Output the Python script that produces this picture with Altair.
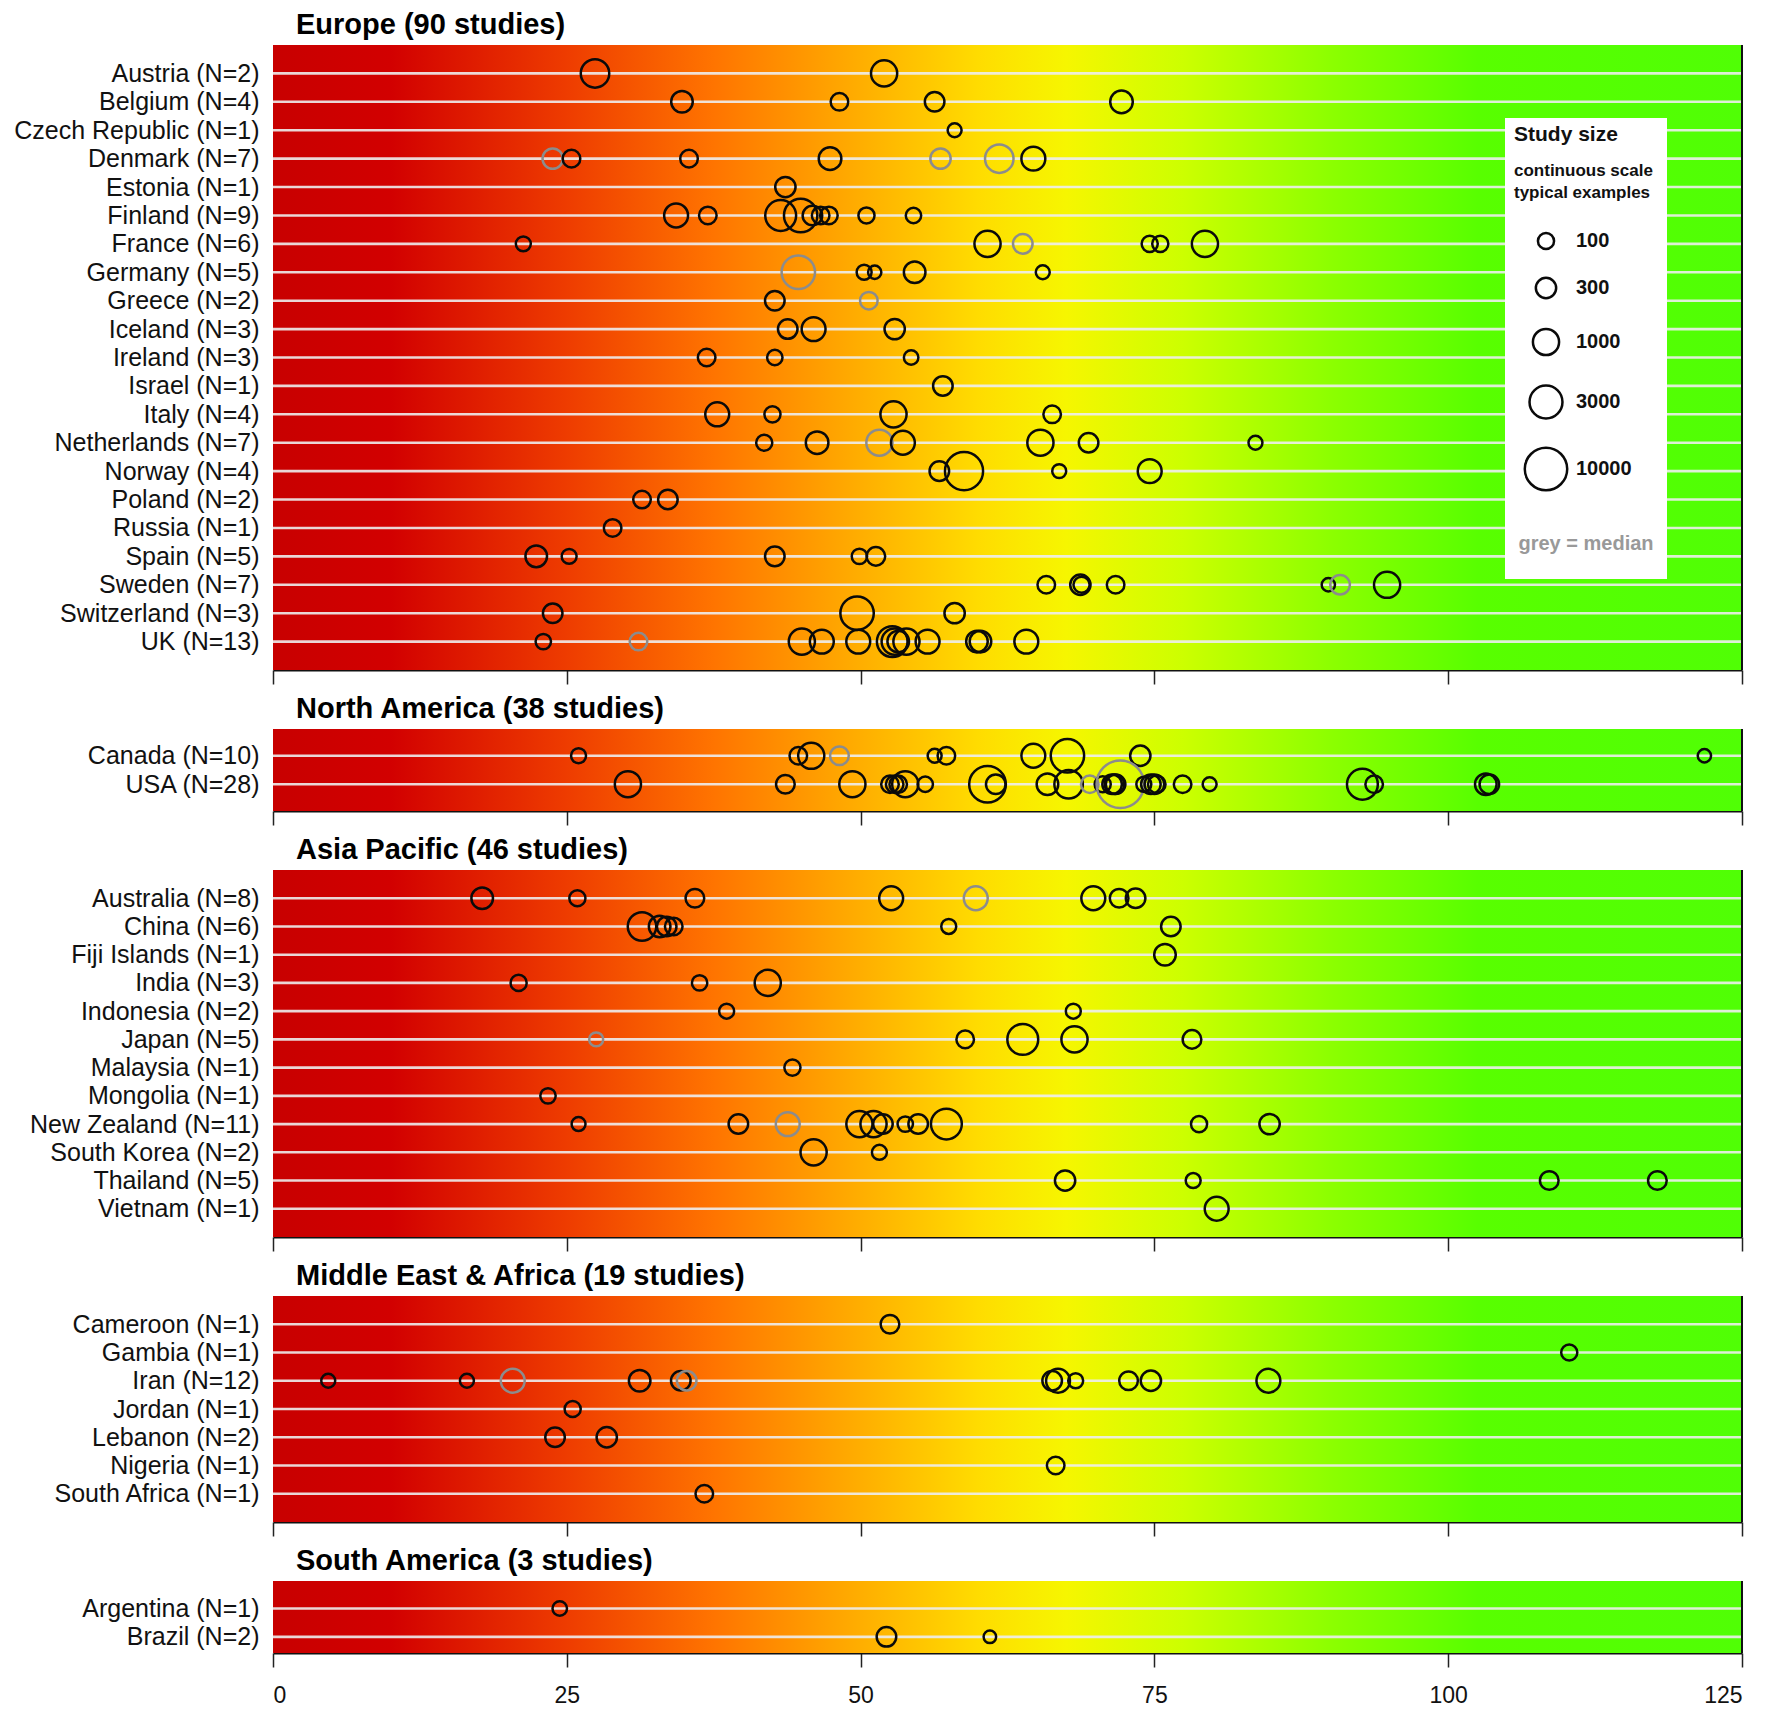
import altair as alt
import pandas as pd

# ── data: (country, N, [(value, study size, grey=median?)]) ─────────────────

EUROPE = [
    ("Austria", 2, [(27.4, 1500, 0), (52.0, 1000, 0)]),
    ("Belgium", 4, [(34.8, 400, 0), (48.2, 150, 0), (56.3, 250, 0), (72.2, 500, 0)]),
    ("Czech Republic", 1, [(58.0, 50, 0)]),
    ("Denmark", 7, [(23.8, 300, 1), (25.4, 150, 0), (35.4, 150, 0), (47.4, 500, 0),
                    (56.8, 300, 1), (61.8, 1500, 1), (64.7, 650, 0)]),
    ("Estonia", 1, [(43.6, 300, 0)]),
    ("Finland", 9, [(34.3, 650, 0), (37.0, 150, 0), (43.2, 2200, 0), (44.9, 3200, 0),
                    (45.9, 250, 0), (46.6, 150, 0), (47.3, 150, 0), (50.5, 100, 0), (54.5, 80, 0)]),
    ("France", 6, [(21.3, 70, 0), (60.8, 1000, 0), (63.8, 250, 1), (74.6, 100, 0),
                   (75.5, 100, 0), (79.3, 1000, 0)]),
    ("Germany", 5, [(44.7, 3200, 1), (50.3, 70, 0), (51.2, 40, 0), (54.6, 400, 0), (65.5, 50, 0)]),
    ("Greece", 2, [(42.7, 250, 0), (50.7, 150, 1)]),
    ("Iceland", 3, [(43.8, 250, 0), (46.0, 650, 0), (52.9, 300, 0)]),
    ("Ireland", 3, [(36.9, 150, 0), (42.7, 80, 0), (54.3, 60, 0)]),
    ("Israel", 1, [(57.0, 250, 0)]),
    ("Italy", 4, [(37.8, 650, 0), (42.5, 100, 0), (52.8, 1000, 0), (66.3, 150, 0)]),
    ("Netherlands", 7, [(41.8, 100, 0), (46.3, 500, 0), (51.6, 1000, 1), (53.6, 650, 0),
                        (65.3, 1000, 0), (69.4, 250, 0), (83.6, 50, 0)]),
    ("Norway", 4, [(56.7, 250, 0), (58.8, 6000, 0), (66.9, 50, 0), (74.6, 650, 0)]),
    ("Poland", 2, [(31.4, 150, 0), (33.6, 250, 0)]),
    ("Russia", 1, [(28.9, 150, 0)]),
    ("Spain", 5, [(22.4, 400, 0), (25.2, 70, 0), (42.7, 250, 0), (49.9, 80, 0), (51.3, 200, 0)]),
    ("Sweden", 7, [(65.8, 150, 0), (68.7, 300, 0), (68.8, 100, 0), (71.7, 150, 0),
                   (89.8, 40, 0), (90.8, 250, 1), (94.8, 1000, 0)]),
    ("Switzerland", 3, [(23.8, 250, 0), (49.7, 3200, 0), (58.0, 300, 0)]),
    ("UK", 13, [(23.0, 80, 0), (31.1, 150, 1), (45.0, 1000, 0), (46.7, 650, 0), (49.8, 650, 0),
                (52.7, 2200, 0), (52.9, 1000, 0), (53.2, 400, 0), (53.9, 1000, 0),
                (55.7, 650, 0), (59.9, 400, 0), (60.2, 400, 0), (64.1, 650, 0)]),
]

NORTH_AMERICA = [
    ("Canada", 10, [(26.0, 70, 0), (44.7, 150, 0), (45.8, 1000, 0), (48.2, 200, 1), (56.3, 50, 0),
                    (57.3, 150, 0), (64.7, 650, 0), (67.6, 3200, 0), (73.8, 300, 0), (121.8, 40, 0)]),
    ("USA", 28, [(30.2, 1000, 0), (43.6, 200, 0), (49.3, 1000, 0), (52.5, 150, 0), (52.9, 150, 0),
                 (53.2, 150, 0), (53.8, 1000, 0), (55.5, 80, 0), (60.8, 5000, 0), (61.5, 250, 0),
                 (65.9, 400, 0), (67.7, 1500, 0), (69.5, 150, 1), (70.6, 100, 0), (71.4, 250, 0),
                 (71.6, 250, 0), (71.7, 250, 0), (72.1, 17000, 1), (74.1, 70, 0), (74.7, 250, 0),
                 (75.0, 250, 0), (75.2, 150, 0), (77.4, 150, 0), (79.7, 50, 0), (92.7, 2200, 0),
                 (93.7, 150, 0), (103.2, 400, 0), (103.5, 250, 0)]),
]

ASIA_PACIFIC = [
    ("Australia", 8, [(17.8, 400, 0), (25.9, 100, 0), (35.9, 200, 0), (52.6, 650, 0),
                      (59.8, 650, 1), (69.8, 650, 0), (72.0, 200, 0), (73.4, 250, 0)]),
    ("China", 6, [(31.4, 1500, 0), (32.9, 400, 0), (33.5, 250, 0), (34.1, 150, 0),
                  (57.5, 70, 0), (76.4, 250, 0)]),
    ("Fiji Islands", 1, [(75.9, 400, 0)]),
    ("India", 3, [(20.9, 100, 0), (36.3, 80, 0), (42.1, 1000, 0)]),
    ("Indonesia", 2, [(38.6, 70, 0), (68.1, 70, 0)]),
    ("Japan", 5, [(27.5, 50, 1), (58.9, 150, 0), (63.8, 2200, 0), (68.2, 1000, 0), (78.2, 200, 0)]),
    ("Malaysia", 1, [(44.2, 100, 0)]),
    ("Mongolia", 1, [(23.4, 80, 0)]),
    ("New Zealand", 11, [(26.0, 50, 0), (39.6, 250, 0), (43.8, 650, 1), (49.9, 1000, 0),
                         (51.1, 1000, 0), (51.9, 250, 0), (53.8, 80, 0), (54.9, 250, 0),
                         (57.3, 2200, 0), (78.8, 100, 0), (84.8, 300, 0)]),
    ("South Korea", 2, [(46.0, 1000, 0), (51.6, 70, 0)]),
    ("Thailand", 5, [(67.4, 300, 0), (78.3, 70, 0), (108.6, 200, 0), (117.8, 200, 0)]),
    ("Vietnam", 1, [(80.3, 650, 0)]),
]

MIDDLE_EAST_AFRICA = [
    ("Cameroon", 1, [(52.5, 200, 0)]),
    ("Gambia", 1, [(110.3, 100, 0)]),
    ("Iran", 12, [(4.7, 50, 0), (16.5, 50, 0), (20.4, 650, 1), (31.2, 400, 0), (34.7, 250, 0),
                  (35.2, 250, 1), (66.3, 250, 0), (66.8, 650, 0), (68.3, 70, 0), (72.8, 200, 0),
                  (74.7, 300, 0), (84.7, 650, 0)]),
    ("Jordan", 1, [(25.5, 100, 0)]),
    ("Lebanon", 2, [(24.0, 250, 0), (28.4, 300, 0)]),
    ("Nigeria", 1, [(66.6, 150, 0)]),
    ("South Africa", 1, [(36.7, 150, 0)]),
]

SOUTH_AMERICA = [
    ("Argentina", 1, [(24.4, 60, 0)]),
    ("Brazil", 2, [(52.2, 250, 0), (61.0, 30, 0)]),
]

X_TICKS = [0, 25, 50, 75, 100, 125]
LEGEND_N = [100, 300, 1000, 3000, 10000]

# ── style ───────────────────────────────────────────────────────────────────

FONT = "Liberation Sans"
W = 1469

GRADIENT = {
    "gradient": "linear", "x1": 0, "y1": 0, "x2": 1, "y2": 0,
    "stops": [
        {"offset": 0.00, "color": "#C80000"},
        {"offset": 0.08, "color": "#D20000"},
        {"offset": 0.20, "color": "#EE3C00"},
        {"offset": 0.30, "color": "#FF7400"},
        {"offset": 0.40, "color": "#FFAE00"},
        {"offset": 0.48, "color": "#FFDC00"},
        {"offset": 0.54, "color": "#F6F600"},
        {"offset": 0.62, "color": "#CCFF00"},
        {"offset": 0.72, "color": "#8CFF00"},
        {"offset": 0.82, "color": "#58FF00"},
        {"offset": 1.00, "color": "#50FF05"},
    ],
}

SIZE = alt.Scale(type="pow", exponent=0.42, domain=[0, 10000], range=[0, 1800])
KIND = alt.Scale(domain=["study", "median"], range=["#0A0A0A", "#8C8C8C"])
XSCALE = alt.Scale(domain=[0, 125], nice=False, zero=False)
STROKE = 2.5


def legend_layers():
    box = alt.Chart(pd.DataFrame({"a": [0]})).mark_rect(color="white").encode(
        x=alt.value(1232), x2=alt.value(1394), y=alt.value(73), y2=alt.value(534)
    )
    parts = [box]
    heads = [("Study size", 21, 90, "#111"), ("continuous scale", 17, 126, "#111"),
             ("typical examples", 17, 148, "#111")]
    for txt, fs, yy, col in heads:
        parts.append(
            alt.Chart(pd.DataFrame({"t": [txt]}))
            .mark_text(align="left", baseline="middle", font=FONT, fontWeight="bold",
                       fontSize=fs, color=col)
            .encode(x=alt.value(1241), y=alt.value(yy), text="t:N")
        )
    item_y = [196, 243, 297, 357, 424]
    for n, yy in zip(LEGEND_N, item_y):
        d = pd.DataFrame({"n": [n], "t": [str(n)]})
        parts.append(
            alt.Chart(d).mark_point(shape="circle", filled=False, strokeWidth=STROKE,
                                    opacity=1, color="#0A0A0A")
            .encode(x=alt.value(1273), y=alt.value(yy),
                    size=alt.Size("n:Q", scale=SIZE, legend=None))
        )
        parts.append(
            alt.Chart(d).mark_text(align="left", baseline="middle", font=FONT,
                                   fontWeight="bold", fontSize=20, color="#111")
            .encode(x=alt.value(1303), y=alt.value(yy), text="t:N")
        )
    parts.append(
        alt.Chart(pd.DataFrame({"t": ["grey = median"]}))
        .mark_text(align="center", baseline="middle", font=FONT, fontWeight="bold",
                   fontSize=20, color="#999999")
        .encode(x=alt.value(1313), y=alt.value(499), text="t:N")
    )
    return parts


def panel(name, rows, height, pad, align, last=False, legend=False):
    labels = [f"{c} (N={k})" for c, k, _ in rows]
    recs = [
        {"label": f"{c} (N={k})", "x": v, "n": n, "kind": "median" if g else "study"}
        for c, k, studies in rows for v, n, g in studies
    ]
    df = pd.DataFrame(recs)
    total = sum(k for _, k, _ in rows)

    yscale = alt.Scale(type="point", domain=labels, padding=pad, align=align)
    y_axis = alt.Axis(title=None, ticks=False, domain=False, labelFontSize=25,
                      labelFont=FONT, labelColor="#111", labelPadding=14, labelLimit=400)
    x_axis = alt.Axis(values=X_TICKS, title=None, grid=False, labels=last, tickSize=14,
                      tickWidth=1.5, tickColor="#222", domainColor="#111", domainWidth=2,
                      labelFontSize=23, labelFont=FONT, labelColor="#111", labelPadding=17)

    span = pd.DataFrame({"x0": [0], "x1": [125]})
    bg = alt.Chart(span).mark_rect(color=GRADIENT).encode(
        x=alt.X("x0:Q", scale=XSCALE, axis=x_axis), x2="x1:Q",
        y=alt.value(0), y2=alt.value(height),
    )
    lines = alt.Chart(pd.DataFrame({"label": labels})).mark_rule(
        color="#EDEDED", strokeWidth=2.6, opacity=0.9
    ).encode(y=alt.Y("label:N", scale=yscale, axis=y_axis, sort=None))

    circles = alt.Chart(df).mark_point(shape="circle", filled=False, strokeWidth=STROKE, opacity=1).encode(
        x=alt.X("x:Q", scale=XSCALE, axis=x_axis),
        y=alt.Y("label:N", scale=yscale, axis=y_axis, sort=None),
        size=alt.Size("n:Q", scale=SIZE, legend=None),
        color=alt.Color("kind:N", scale=KIND, legend=None),
    )
    edge = alt.Chart(span).mark_rule(color="#111", strokeWidth=2).encode(x=alt.datum(125))

    layers = [bg, lines]
    if legend:
        layers += legend_layers()
    layers += [circles, edge]

    return alt.layer(*layers).properties(
        width=W,
        height=height,
        title=alt.TitleParams(
            text=f"{name} ({total} studies)", anchor="start", frame="group", dx=23,
            fontSize=29, font=FONT, fontWeight="bold", color="black", offset=4,
        ),
    )


chart = alt.vconcat(
    panel("Europe", EUROPE, 625, 1.0, 0.5, legend=True),
    panel("North America", NORTH_AMERICA, 82, 0.94, 0.5),
    panel("Asia Pacific", ASIA_PACIFIC, 367, 1.0, 0.5),
    panel("Middle East & Africa", MIDDLE_EAST_AFRICA, 226, 1.0, 0.5),
    panel("South America", SOUTH_AMERICA, 72, 0.77, 0.63, last=True),
    spacing=10,
).configure(
    font=FONT,
    background="white",
    padding={"left": 5, "top": 3, "right": 5, "bottom": 5},
).configure_view(strokeWidth=0)

chart.save("out.html", embed_options={"renderer": "svg", "actions": False})
